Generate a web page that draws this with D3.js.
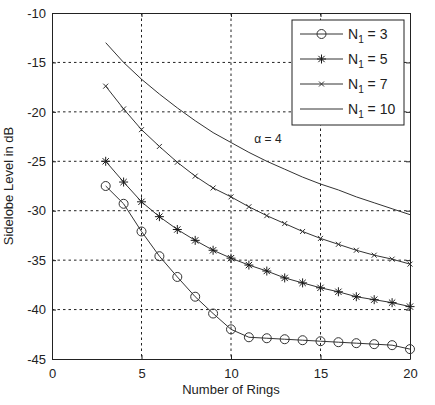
<!DOCTYPE html>
<html>
<head>
<meta charset="utf-8">
<script src="https://cdn.jsdelivr.net/npm/d3@7"></script>
<style>
  body { margin: 0; background: #fff; }
  text { font-family: "Liberation Sans", Arial, sans-serif; fill: #222; }
</style>
</head>
<body>
<div id="chart"></div>
<script>
// number of rings on the x axis
const rings = [3, 4, 5, 6, 7, 8, 9, 10, 11, 12, 13, 14, 15, 16, 17, 18, 19, 20];

// sidelobe level (dB), one array per N1
const n1_3 = [-27.5, -29.3, -32.1, -34.6, -36.7, -38.7, -40.4, -42.0, -42.8, -42.9, -43.0, -43.1, -43.2, -43.3, -43.4, -43.5, -43.6, -44.0];
const n1_5 = [-25.0, -27.1, -29.1, -30.6, -31.9, -33.0, -34.0, -34.8, -35.5, -36.1, -36.8, -37.3, -37.8, -38.2, -38.7, -39.0, -39.3, -39.7];
const n1_7 = [-17.4, -19.7, -21.8, -23.5, -25.1, -26.5, -27.7, -28.6, -29.6, -30.5, -31.3, -32.1, -32.8, -33.4, -34.0, -34.5, -34.9, -35.4];
const n1_10 = [-13.0, -15.0, -16.7, -18.2, -19.6, -20.9, -22.1, -23.1, -24.1, -25.0, -25.8, -26.6, -27.3, -27.9, -28.6, -29.2, -29.8, -30.4];

const seriesNames = ['3', '5', '7', '10'];
const seriesMarkers = ['circle', 'star', 'x', 'none'];

const xTicks = [0, 5, 10, 15, 20];
const yTicks = [-10, -15, -20, -25, -30, -35, -40, -45];

let margin = { top: 13, left: 52, right: 25, bottom: 46 },
    width = 435 - margin.left - margin.right,
    height = 405 - margin.top - margin.bottom;

let svg = d3.select('#chart')
  .append('svg')
  .attr('width', 435)
  .attr('height', 405)
  .append('g')
  .attr('transform', 'translate(' + margin.left + ',' + margin.top + ')');

const x = d3.scaleLinear().domain([0, 20]).range([0, width]);
const y = d3.scaleLinear().domain([-45, -10]).range([height, 0]);

const lineCol = '#333';

// grid
svg.append('g').selectAll('line')
  .data(xTicks.slice(1, -1))
  .enter().append('line')
  .attr('x1', d => x(d)).attr('x2', d => x(d))
  .attr('y1', 0).attr('y2', height)
  .attr('stroke', '#222').attr('stroke-dasharray', '2.5,3');

svg.append('g').selectAll('line')
  .data(yTicks.slice(1, -1))
  .enter().append('line')
  .attr('y1', d => y(d)).attr('y2', d => y(d))
  .attr('x1', 0).attr('x2', width)
  .attr('stroke', '#222').attr('stroke-dasharray', '2.5,3');

// axes (ticks inward, box all round)
const axB = svg.append('g').attr('transform', 'translate(0,' + height + ')')
  .call(d3.axisBottom(x).tickValues(xTicks).tickSizeInner(-4).tickSizeOuter(0).tickPadding(10));
const axT = svg.append('g')
  .call(d3.axisTop(x).tickValues(xTicks).tickSizeInner(-4).tickSizeOuter(0).tickFormat(''));
const axL = svg.append('g')
  .call(d3.axisLeft(y).tickValues(yTicks).tickSizeInner(-4).tickSizeOuter(0).tickPadding(6)
    .tickFormat(d3.format('d')));
const axR = svg.append('g').attr('transform', 'translate(' + width + ',0)')
  .call(d3.axisRight(y).tickValues(yTicks).tickSizeInner(-4).tickSizeOuter(0).tickFormat(''));

[axB, axT, axL, axR].forEach(a => {
  a.select('.domain').attr('stroke', '#222');
  a.selectAll('.tick line').attr('stroke', '#222');
  a.selectAll('text').style('font-size', '13px').attr('fill', '#222')
    .style('font-family', '"Liberation Sans", Arial, sans-serif');
});
axL.selectAll('text').text(d => d3.format('d')(d).replace('−', '-'));

// axis titles
svg.append('text')
  .attr('x', width / 2).attr('y', height + 35)
  .attr('text-anchor', 'middle')
  .style('font-size', '13px')
  .text('Number of Rings');

svg.append('text')
  .attr('transform', 'translate(' + (-39) + ',' + (height / 2) + ') rotate(-90)')
  .attr('text-anchor', 'middle')
  .style('font-size', '13px')
  .text('Sidelobe Level in dB');

// marker drawing
function drawMarker(g, type, cx, cy) {
  if (type === 'circle') {
    g.append('circle').attr('cx', cx).attr('cy', cy).attr('r', 4.5)
      .attr('fill', 'none').attr('stroke', lineCol).attr('stroke-width', 1);
  } else if (type === 'star') {
    const s = 4.5;
    g.append('path')
      .attr('d', `M${cx - s},${cy}H${cx + s}M${cx},${cy - s}V${cy + s}` +
        `M${cx - s * 0.7},${cy - s * 0.7}L${cx + s * 0.7},${cy + s * 0.7}` +
        `M${cx - s * 0.7},${cy + s * 0.7}L${cx + s * 0.7},${cy - s * 0.7}`)
      .attr('stroke', '#1a1a1a').attr('stroke-width', 1).attr('fill', 'none');
  } else if (type === 'x') {
    const s = 2.5;
    g.append('path')
      .attr('d', `M${cx - s},${cy - s}L${cx + s},${cy + s}M${cx - s},${cy + s}L${cx + s},${cy - s}`)
      .attr('stroke', lineCol).attr('stroke-width', 1).attr('fill', 'none');
  }
}

const allSeries = [n1_3, n1_5, n1_7, n1_10];
const line = d3.line().x(d => x(d[0])).y(d => y(d[1]));

allSeries.forEach((vals, i) => {
  const pts = rings.map((r, j) => [r, vals[j]]);
  const g = svg.append('g');
  g.append('path').datum(pts)
    .attr('d', line)
    .attr('fill', 'none')
    .attr('stroke', lineCol)
    .attr('stroke-width', 1);
  pts.forEach(p => drawMarker(g, seriesMarkers[i], x(p[0]), y(p[1])));
});

// annotation
svg.append('text')
  .attr('x', x(11.3)).attr('y', y(-23.2))
  .style('font-size', '12px')
  .text('α = 4');

// legend
const lgX = 240, lgY = 7, lgW = 112, lgH = 105;
const legend = svg.append('g').attr('transform', 'translate(' + lgX + ',' + lgY + ')');
legend.append('rect')
  .attr('width', lgW).attr('height', lgH)
  .attr('fill', '#fff').attr('stroke', '#222');

seriesNames.forEach((n, i) => {
  const ly = 14 + i * 25;
  const row = legend.append('g');
  row.append('line').attr('x1', 8).attr('x2', 51).attr('y1', ly).attr('y2', ly)
    .attr('stroke', lineCol).attr('stroke-width', 1);
  drawMarker(row, seriesMarkers[i], 29.5, ly);
  const t = row.append('text').attr('x', 56).attr('y', ly + 5).style('font-size', '14px');
  t.append('tspan').text('N');
  t.append('tspan').attr('dy', 4).style('font-size', '10px').text('1');
  t.append('tspan').attr('dy', -4).text(' = ' + n);
});
</script>
</body>
</html>
